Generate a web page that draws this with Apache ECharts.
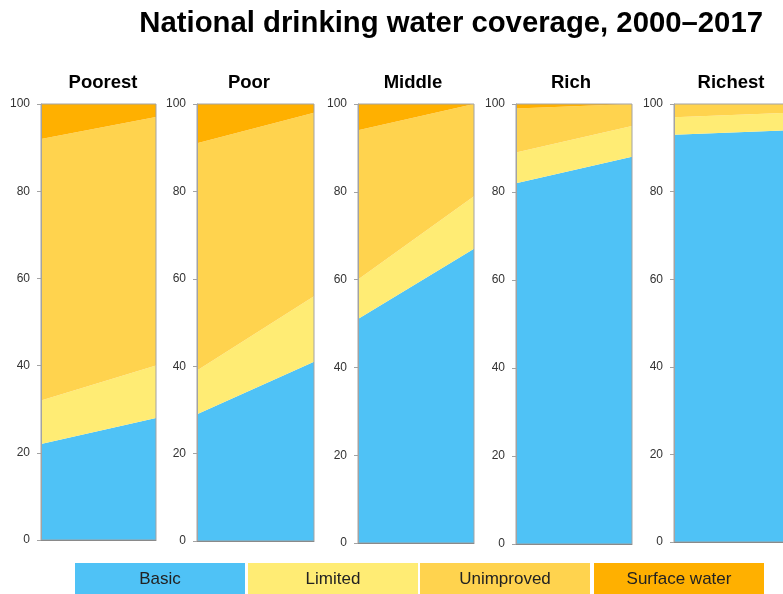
<!DOCTYPE html>
<html>
<head>
<meta charset="utf-8">
<title>National drinking water coverage, 2000–2017</title>
<script src="https://cdn.jsdelivr.net/npm/echarts@6/dist/echarts.min.js"></script>
<style>
  html, body { margin: 0; padding: 0; background: #fff; }
  #chart { width: 783px; height: 594px; }
</style>
</head>
<body>
<div id="chart"></div>
<script>
// Service levels by wealth quintile, share of population (%), 2000 vs 2017
const years = ['2000', '2017'];
const quintiles = ['Poorest', 'Poor', 'Middle', 'Rich', 'Richest'];
const levelNames = ['Basic', 'Limited', 'Unimproved', 'Surface water'];

// one [2000, 2017] pair per quintile
const basic        = [[22, 28], [29, 41], [51, 67], [82, 88], [93, 94]];
const limited      = [[10, 12], [10, 15], [9, 12], [7, 7], [4, 4]];
const unimproved   = [[60, 57], [52, 42], [34, 21], [10, 5], [3, 2]];
const surfaceWater = [[8, 3], [9, 2], [6, 0], [1, 0], [0, 0]];

const yTicks = [0, 20, 40, 60, 80, 100];

const levelColors = ['#4fc2f6', '#ffec74', '#ffd34e', '#ffb000'];
const levelData = [basic, limited, unimproved, surfaceWater];

// panel frames (left edge, width, bottom edge, heading centre) in px
const panelFrames = [
  { left: 41, width: 115, bottom: 540, head: 103 },
  { left: 197, width: 117, bottom: 541, head: 249 },
  { left: 358, width: 116, bottom: 543, head: 413 },
  { left: 516, width: 116, bottom: 544, head: 571 },
  { left: 674, width: 116, bottom: 542, head: 731 }
];
const panelTop = 104;
const FONT = "'Liberation Sans', Arial, Helvetica, sans-serif";

const grids = [], xAxes = [], yAxes = [], series = [], titles = [];

titles.push({
  text: 'National drinking water coverage, 2000–2017',
  right: 20, top: 9, padding: 0,
  textStyle: { fontFamily: FONT, fontSize: 29.3, fontWeight: 'bold', color: '#000' }
});

quintiles.forEach((q, i) => {
  const f = panelFrames[i];
  grids.push({
    left: f.left, width: f.width, top: panelTop, height: f.bottom - panelTop,
    containLabel: false, outerBoundsMode: 'none',
    show: true, z: 5, backgroundColor: 'transparent',
    borderColor: '#a3a3a3', borderWidth: 1
  });
  xAxes.push({
    type: 'category', gridIndex: i, data: years, boundaryGap: false, z: 6,
    axisLine: { show: true, lineStyle: { color: '#8a8a8a', width: 1 } },
    axisTick: { show: false }, axisLabel: { show: false }, splitLine: { show: false }
  });
  yAxes.push({
    type: 'value', gridIndex: i, min: yTicks[0], max: yTicks[yTicks.length - 1],
    interval: yTicks[1] - yTicks[0], z: 6,
    axisLine: { show: true, lineStyle: { color: '#a3a3a3', width: 1 } },
    axisTick: { show: true, length: 4, lineStyle: { color: '#a3a3a3' } },
    axisLabel: { margin: 11, fontFamily: FONT, fontSize: 12, color: '#333' },
    splitLine: { show: false }
  });
  titles.push({
    text: q, left: f.head, textAlign: 'center', top: 73, padding: 0,
    textStyle: { fontFamily: FONT, fontSize: 18.5, fontWeight: 'bold', color: '#000' }
  });
  levelNames.forEach((name, k) => {
    series.push({
      name: name, type: 'line', stack: 'q' + i,
      xAxisIndex: i, yAxisIndex: i,
      data: levelData[k][i],
      symbol: 'none', smooth: false,
      lineStyle: { width: 0 },
      areaStyle: { color: levelColors[k], opacity: 1 },
      itemStyle: { color: levelColors[k] },
      emphasis: { disabled: true },
      silent: true, animation: false
    });
  });
});

// colour-key blocks along the bottom
const keyLeft = [75, 248, 420, 594];
const keyGraphics = levelNames.map((name, k) => ({
  type: 'rect', left: keyLeft[k], top: 563,
  shape: { width: 170, height: 32 },
  style: { fill: levelColors[k] },
  textContent: {
    style: { text: name, fontFamily: FONT, fontSize: 17, fill: '#222' }
  },
  textConfig: { position: 'inside' }
}));

const chart = echarts.init(document.getElementById('chart'), null, { renderer: 'canvas' });
chart.setOption({
  animation: false,
  backgroundColor: '#fff',
  title: titles,
  grid: grids,
  xAxis: xAxes,
  yAxis: yAxes,
  series: series,
  graphic: keyGraphics
});
</script>
</body>
</html>
